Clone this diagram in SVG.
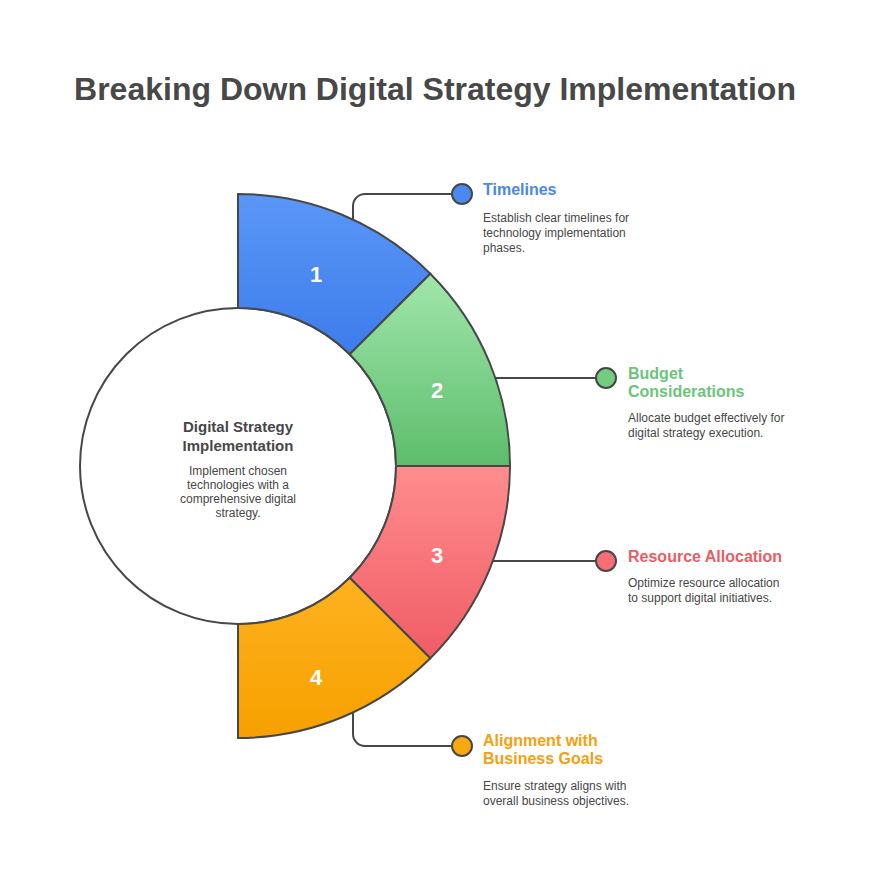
<svg xmlns="http://www.w3.org/2000/svg" width="870" height="870" viewBox="0 0 870 870" font-family="'Liberation Sans', Arial, Helvetica, sans-serif">
<style>
text{font-family:"Liberation Sans",Arial,Helvetica,sans-serif;}
.seg{stroke:#474747;stroke-width:2;}
.num{fill:#fff;font-size:22px;font-weight:bold;text-anchor:middle;}
.conn{fill:none;stroke:#474747;stroke-width:2;}
.dot{stroke:#474747;stroke-width:2;}
.ttl{font-size:16px;font-weight:bold;}
.desc{font-size:12px;fill:#474747;}
.ctitle{font-size:15px;font-weight:bold;fill:#474747;text-anchor:middle;}
.cdesc{font-size:12px;fill:#474747;text-anchor:middle;}
</style>
<defs>
<linearGradient id="gb" x1="0" y1="0" x2="0" y2="1"><stop offset="0" stop-color="#5a97f7"/><stop offset="1" stop-color="#3d7ceb"/></linearGradient>
<linearGradient id="gg" x1="0" y1="0" x2="0" y2="1"><stop offset="0" stop-color="#a0e6ab"/><stop offset="1" stop-color="#5dbd6c"/></linearGradient>
<linearGradient id="gr" x1="0" y1="0" x2="0" y2="1"><stop offset="0" stop-color="#ff8d8d"/><stop offset="1" stop-color="#f05c66"/></linearGradient>
<linearGradient id="go" x1="0" y1="0" x2="0" y2="1"><stop offset="0" stop-color="#fdb21f"/><stop offset="1" stop-color="#f7a000"/></linearGradient>
</defs>
<rect width="870" height="870" fill="#fff"/>
<text x="435" y="100" font-size="32" font-weight="bold" fill="#484848" text-anchor="middle">Breaking Down Digital Strategy Implementation</text>
<g id="connectors">
<path class="conn" d="M353 220 V206 A12 12 0 0 1 365 194 H452"/>
<path class="conn" d="M495 378 H596"/>
<path class="conn" d="M493 561 H596"/>
<path class="conn" d="M353 712 V734 A12 12 0 0 0 365 746 H452"/>
</g>
<g id="center">
<circle cx="238" cy="466" r="158" fill="#fff" stroke="#474747" stroke-width="2"/>
<text class="ctitle" x="238" y="432">Digital Strategy</text>
<text class="ctitle" x="238" y="451">Implementation</text>
<text class="cdesc" x="238" y="475">Implement chosen</text>
<text class="cdesc" x="238" y="489">technologies with a</text>
<text class="cdesc" x="238" y="503">comprehensive digital</text>
<text class="cdesc" x="238" y="517">strategy.</text>
</g>
<g id="seg1">
<path class="seg" fill="url(#gb)" d="M238 194 A272 272 0 0 1 430.3 273.7 L349.7 354.3 A158 158 0 0 0 238 308 Z"/>
<text class="num" x="316" y="282">1</text>
</g>
<g id="seg2">
<path class="seg" fill="url(#gg)" d="M430.3 273.7 A272 272 0 0 1 510 466 L396 466 A158 158 0 0 0 349.7 354.3 Z"/>
<text class="num" x="437" y="398">2</text>
</g>
<g id="seg3">
<path class="seg" fill="url(#gr)" d="M510 466 A272 272 0 0 1 430.3 658.3 L349.7 577.7 A158 158 0 0 0 396 466 Z"/>
<text class="num" x="437" y="563">3</text>
</g>
<g id="seg4">
<path class="seg" fill="url(#go)" d="M430.3 658.3 A272 272 0 0 1 238 738 L238 624 A158 158 0 0 0 349.7 577.7 Z"/>
<text class="num" x="316" y="685">4</text>
</g>
<g id="item1">
<circle class="dot" cx="462" cy="194" r="10" fill="#4a88f2"/>
<text class="ttl" x="483" y="195" fill="#4a86ec">Timelines</text>
<text class="desc" x="483" y="222">Establish clear timelines for</text>
<text class="desc" x="483" y="237">technology implementation</text>
<text class="desc" x="483" y="252">phases.</text>
</g>
<g id="item2">
<circle class="dot" cx="606" cy="378" r="10" fill="#72cc82"/>
<text class="ttl" x="628" y="379" fill="#6cc47a">Budget</text>
<text class="ttl" x="628" y="397" fill="#6cc47a">Considerations</text>
<text class="desc" x="628" y="422">Allocate budget effectively for</text>
<text class="desc" x="628" y="437">digital strategy execution.</text>
</g>
<g id="item3">
<circle class="dot" cx="606" cy="561" r="10" fill="#f76d75"/>
<text class="ttl" x="628" y="562" fill="#ea5c64">Resource Allocation</text>
<text class="desc" x="628" y="587">Optimize resource allocation</text>
<text class="desc" x="628" y="602">to support digital initiatives.</text>
</g>
<g id="item4">
<circle class="dot" cx="462" cy="746" r="10" fill="#f9a80e"/>
<text class="ttl" x="483" y="746" fill="#f5a00f">Alignment with</text>
<text class="ttl" x="483" y="764" fill="#f5a00f">Business Goals</text>
<text class="desc" x="483" y="790">Ensure strategy aligns with</text>
<text class="desc" x="483" y="805">overall business objectives.</text>
</g>
</svg>
